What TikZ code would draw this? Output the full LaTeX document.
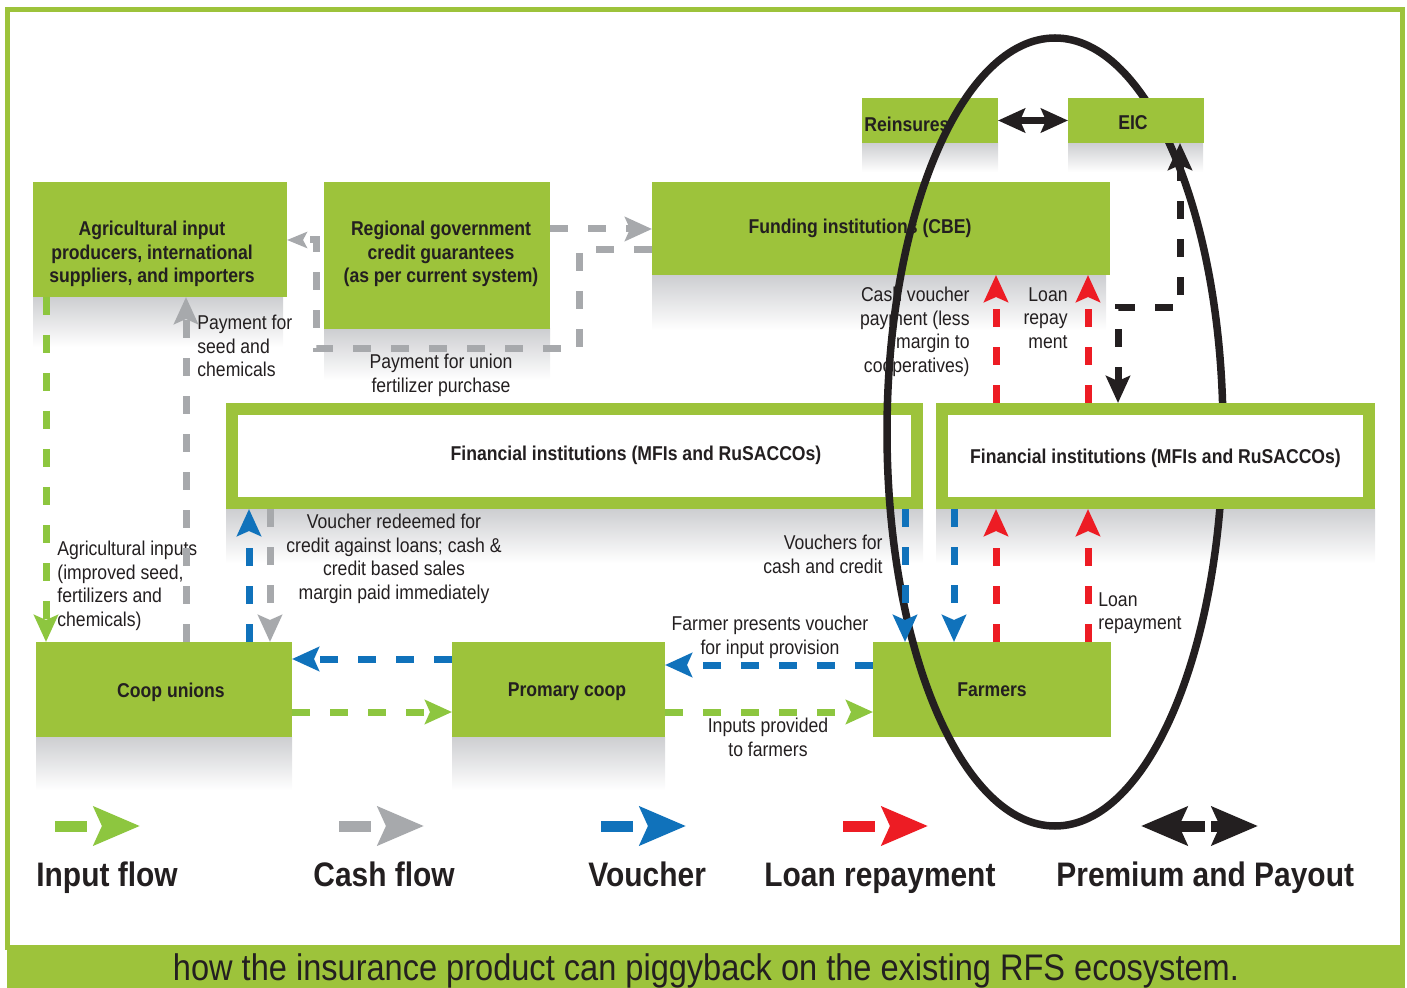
\documentclass[tikz,border=0pt]{standalone}
\usepackage{fontspec}
\setmainfont{Liberation Sans}[FakeStretch=0.88]
\usetikzlibrary{arrows.meta}
\definecolor{boxgreen}{RGB}{157,195,59}
\definecolor{ingreen}{RGB}{141,198,63}
\definecolor{cashgray}{RGB}{167,169,172}
\definecolor{vblue}{RGB}{16,114,187}
\definecolor{lred}{RGB}{237,28,36}
\definecolor{pblack}{RGB}{35,31,32}
\definecolor{shadowgray}{RGB}{205,206,209}

\tikzset{
  flowtip/.tip={Stealth[length=13.5pt,width=12pt,inset=2.5pt]},
  bigtip/.tip={Stealth[length=23pt,width=19pt,inset=4pt]},
  box/.style={fill=boxgreen, draw=none, inner sep=0pt, outer sep=0pt, text=pblack,
    font=\bfseries\fontsize{10}{11.75}\selectfont, align=center},
  finbox/.style={draw=boxgreen, line width=6pt, fill=white, inner sep=0pt, text=pblack,
    font=\bfseries\fontsize{10}{11.75}\selectfont, text depth=0pt},
  boxtext/.style={text=pblack, inner sep=0pt, font=\bfseries\fontsize{10}{11.75}\selectfont, align=center},
  lbl/.style={text=pblack, inner sep=0pt, font=\fontsize{10}{11.75}\selectfont},
  legtext/.style={text=pblack, inner sep=0pt, font=\bfseries\fontsize{17}{20}\selectfont},
  shadow/.style={top color=shadowgray, bottom color=white, draw=none},
  flow/.style={line width=3.5pt, dash pattern=on 9pt off 10pt, -flowtip},
  inflow/.style={flow, draw=ingreen},
  cash/.style={flow, draw=cashgray},
  vouch/.style={flow, draw=vblue},
  loan/.style={flow, draw=lred},
  prem/.style={flow, draw=pblack}
}

\begin{document}
\begin{tikzpicture}[x=0.5pt, y=-0.5pt]
  \useasboundingbox (0,0) rectangle (1407,988);

  % Frame and caption band
  \draw[boxgreen, line width=2.5pt] (7,9.5) rectangle (1402.5,947);
  \fill[boxgreen] (7,946) rectangle (1405,988);

  % Shadows under the boxes
  \shade[shadow] (33,297) rectangle (283,347);
  \shade[shadow] (324,329) rectangle (550,380);
  \shade[shadow] (652,275) rectangle (1106,330);
  \shade[shadow] (862,143) rectangle (998,172);
  \shade[shadow] (1068,143) rectangle (1203,172);
  \shade[shadow] (226,509) rectangle (923,563);
  \shade[shadow] (936,509) rectangle (1375,563);
  \shade[shadow] (36,737) rectangle (292,790);
  \shade[shadow] (452,737) rectangle (665,790);

  % Boxes
  \node[box, minimum width=127pt, minimum height=57.5pt] (agri) at (160,239.5) {};
  \node[boxtext] (agritxt) at (152,254) {Agricultural input\\producers, international\\suppliers, and importers};
  \node[box, minimum width=113pt, minimum height=73.5pt] (regional) at (437,255.5) {};
  \node[boxtext] (regionaltxt) at (441,254) {Regional government\\credit guarantees\\(as per current system)};
  \node[box, minimum width=229pt, minimum height=46.5pt] (funding) at (881,228.5) {};
  \node[boxtext] (fundingtxt) at (860,228) {Funding institutions (CBE)};
  \node[box, minimum width=68pt, minimum height=22.5pt] (reinsures) at (930,120.5) {};
  \node[boxtext, anchor=west] (reinsurestxt) at (864,124) {Reinsures};
  \node[finbox, minimum width=342.5pt, minimum height=47pt] (finL) at (574.5,456) {};
  \node[boxtext] (finLtxt) at (636,455) {Financial institutions (MFIs and RuSACCOs)};
  \node[box, minimum width=128pt, minimum height=47.5pt] (unions) at (164,689.5) {};
  \node[boxtext, text depth=0pt] (unionstxt) at (171,690) {Coop unions};
  \node[box, minimum width=106.5pt, minimum height=47.5pt] (primary) at (558.5,689.5) {};
  \node[boxtext, text depth=0pt] (primarytxt) at (567,690) {Promary coop};
  \node[box, minimum width=119pt, minimum height=47.5pt, text depth=0pt] (farmers) at (992,689.5) {Farmers};

  % Labels
  \node[lbl, align=left, anchor=north west] (paytxt) at (197,315) {Payment for\\seed and\\chemicals};
  \node[lbl, align=center, anchor=north] (uniontxt) at (441,354) {Payment for union\\fertilizer purchase};
  \node[lbl, align=left, anchor=north west] (inputtxt) at (57,541) {Agricultural inputs\\(improved seed,\\fertilizers and\\chemicals)};
  \node[lbl, align=center, anchor=north] (redeemtxt) at (394,514) {Voucher redeemed for\\credit against loans; cash \&\\credit based sales\\margin paid immediately};
  \node[lbl, align=right, anchor=north east] (cashvtxt) at (970,287) {Cash voucher\\payment (less\\margin to\\cooperatives)};
  \node[lbl, align=right, anchor=north east] (loanuptxt) at (1068,287) {Loan\\repay\\ment};
  \node[lbl, align=right, anchor=north east] (vouchtxt) at (883,535) {Vouchers for\\cash and credit};
  \node[lbl, align=center, anchor=north] (presenttxt) at (770,616) {Farmer presents voucher\\for input provision};
  \node[lbl, align=center, anchor=north] (providedtxt) at (768,718) {Inputs provided\\to farmers};
  \node[lbl, align=left, anchor=north west] (loandowntxt) at (1098,592) {Loan\\repayment};

  % Insurance loop (passes behind EIC and the right-hand financial institutions)
  \draw[pblack, line width=3.75pt] (1055,432) ellipse [x radius=84pt, y radius=197pt];

  \node[box, minimum width=68pt, minimum height=22.5pt] (eic) at (1136,120.5) {};
  \node[boxtext, text depth=0pt] (eictxt) at (1133,123) {EIC};
  \node[finbox, minimum width=213.5pt, minimum height=47pt] (finR) at (1155.5,456) {Financial institutions (MFIs and RuSACCOs)};

  % Input flow
  \draw[inflow] (agri.south -| 46,0) -- (unions.north -| 46,0);
  \draw[inflow] (unions.east |- 0,712) -- (primary.west |- 0,712);
  \draw[inflow] (primary.east |- 0,712) -- (farmers.west |- 0,712);

  % Cash flow
  \draw[cash] (unions.north -| 186,0) -- (agri.south -| 186,0);
  \draw[cash] (regional.east |- 0,229) -- (funding.west |- 0,229);
  \draw[cash, -{Stealth[length=10pt,width=8pt,inset=2pt]}] (funding.west |- 0,250) -- (579,250) -- (579,349)
    -- (316,349) -- (316,240) -- (agri.east |- 0,240);
  \draw[cash] (finL.south -| 270,0) -- (unions.north -| 270,0);

  % Vouchers
  \draw[vouch] (unions.north -| 249,0) -- (finL.south -| 249,0);
  \draw[vouch] (primary.west |- 0,659) -- (unions.east |- 0,659);
  \draw[vouch] (farmers.west |- 0,665) -- (primary.east |- 0,665);
  \draw[vouch] (finL.south -| 905,0) -- (farmers.north -| 905,0);
  \draw[vouch] (finR.south -| 954,0) -- (farmers.north -| 954,0);

  % Loan repayment
  \draw[loan] (farmers.north -| 996,0) -- (finR.south -| 996,0);
  \draw[loan] (farmers.north -| 1088,0) -- (finR.south -| 1088,0);
  \draw[loan] (finR.north -| 996,0) -- (funding.south -| 996,0);
  \draw[loan] (finR.north -| 1088,0) -- (funding.south -| 1088,0);

  % Premium and payout
  \draw[prem, flowtip-flowtip] (eic.south -| 1180,0) -- (1180,308) -- (1118,308) -- (finR.north -| 1118,0);
  \draw[pblack, line width=3.5pt, flowtip-flowtip] (reinsures.east) -- (eic.west);

  % Legend
  \foreach \ax/\lx/\col/\txt in {55/36/ingreen/Input flow, 339/313/cashgray/Cash flow,
      601/588/vblue/Voucher, 843/764/lred/Loan repayment} {
    \draw[\col, line width=5.5pt, dash pattern=on 16pt off 20pt, -bigtip] (\ax,826) -- +(85,0);
    \node[legtext, anchor=base west] (leg\ax) at (\lx,886) {\txt};
  }
  \draw[pblack, line width=5.5pt, -bigtip] (1205,826) -- (1141,826);
  \draw[pblack, line width=5.5pt, -bigtip] (1211,826) -- (1258,826);
  \node[legtext, anchor=base west] (legprem) at (1056,886) {Premium and Payout};

  % Caption
  \node[text=pblack, inner sep=0pt, font=\fontsize{18.5}{22}\selectfont, anchor=base] (caption) at (706,980)
    {how the insurance product can piggyback on the existing RFS ecosystem.};
\end{tikzpicture}
\end{document}
